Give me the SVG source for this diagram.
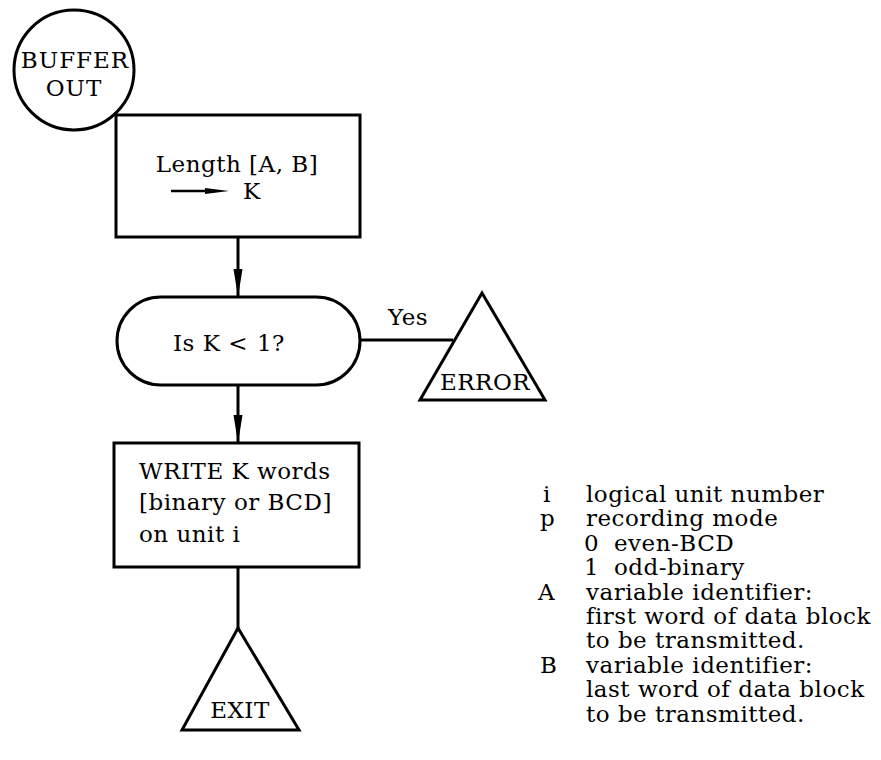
<svg xmlns="http://www.w3.org/2000/svg" width="881" height="760" viewBox="0 0 881 760">
<style>
.s{fill:#fff;stroke:#000;stroke-width:3}
.t{font-family:"DejaVu Serif","Liberation Serif",serif;font-size:23px;letter-spacing:0.5px;fill:#000}
.c{stroke:#000;stroke-width:3;fill:none}
</style>
<defs>
<marker id="ah" markerWidth="28" markerHeight="10" refX="27" refY="5" orient="auto" markerUnits="userSpaceOnUse" viewBox="0 0 28 10">
<path d="M0,0.5 L28,5 L0,9.5 Z" fill="#000"/>
</marker>
</defs>
<rect width="881" height="760" fill="#fff"/>
<g id="connectors">
<path class="c" d="M238,237 V296" marker-end="url(#ah)"/>
<path class="c" d="M238,385 V442" marker-end="url(#ah)"/>
<path class="c" d="M360,340 H453"/>
<path class="c" d="M238,567 V628"/>
<text class="t" x="388" y="325">Yes</text>
</g>
<g id="start">
<circle class="s" cx="74" cy="70" r="60"/>
<text class="t" x="75" y="68" text-anchor="middle" style="letter-spacing:1px">BUFFER</text>
<text class="t" x="74" y="96" text-anchor="middle" style="letter-spacing:1px">OUT</text>
</g>
<g id="length">
<rect class="s" x="116" y="115" width="244" height="122"/>
<text class="t" x="237" y="172" text-anchor="middle">Length [A, B]</text>
<path d="M171,191 H210" stroke="#000" stroke-width="2.5"/>
<path d="M205,188 L229,191 L205,194 Z" fill="#000"/>
<text class="t" x="243" y="199">K</text>
</g>
<g id="test">
<rect class="s" x="117" y="297" width="243" height="88" rx="44" ry="44"/>
<text class="t" x="173" y="351">Is K &lt;<tspan dx="9">1?</tspan></text>
</g>
<g id="error">
<polygon class="s" points="482,293 545,400 420,400"/>
<text class="t" x="440" y="390">ERROR</text>
</g>
<g id="write">
<rect class="s" x="114" y="443" width="245" height="124"/>
<text class="t" x="139" y="479">WRITE K words</text>
<text class="t" x="139" y="510">[binary or BCD]</text>
<text class="t" x="139" y="542">on unit i</text>
</g>
<g id="exit">
<polygon class="s" points="238,628 299,730 182,730"/>
<text class="t" x="240" y="718" text-anchor="middle">EXIT</text>
</g>
<g id="legend" class="t">
<text x="543" y="502">i</text><text x="586" y="502">logical unit number</text>
<text x="540" y="526">p</text><text x="586" y="526">recording mode</text>
<text x="584" y="551">0</text><text x="614" y="551">even-BCD</text>
<text x="584" y="575">1</text><text x="614" y="575">odd-binary</text>
<text x="538" y="600">A</text><text x="586" y="600">variable identifier:</text>
<text x="586" y="624">first word of data block</text>
<text x="586" y="648">to be transmitted.</text>
<text x="540" y="673">B</text><text x="586" y="673">variable identifier:</text>
<text x="586" y="697">last word of data block</text>
<text x="586" y="722">to be transmitted.</text>
</g>
</svg>
